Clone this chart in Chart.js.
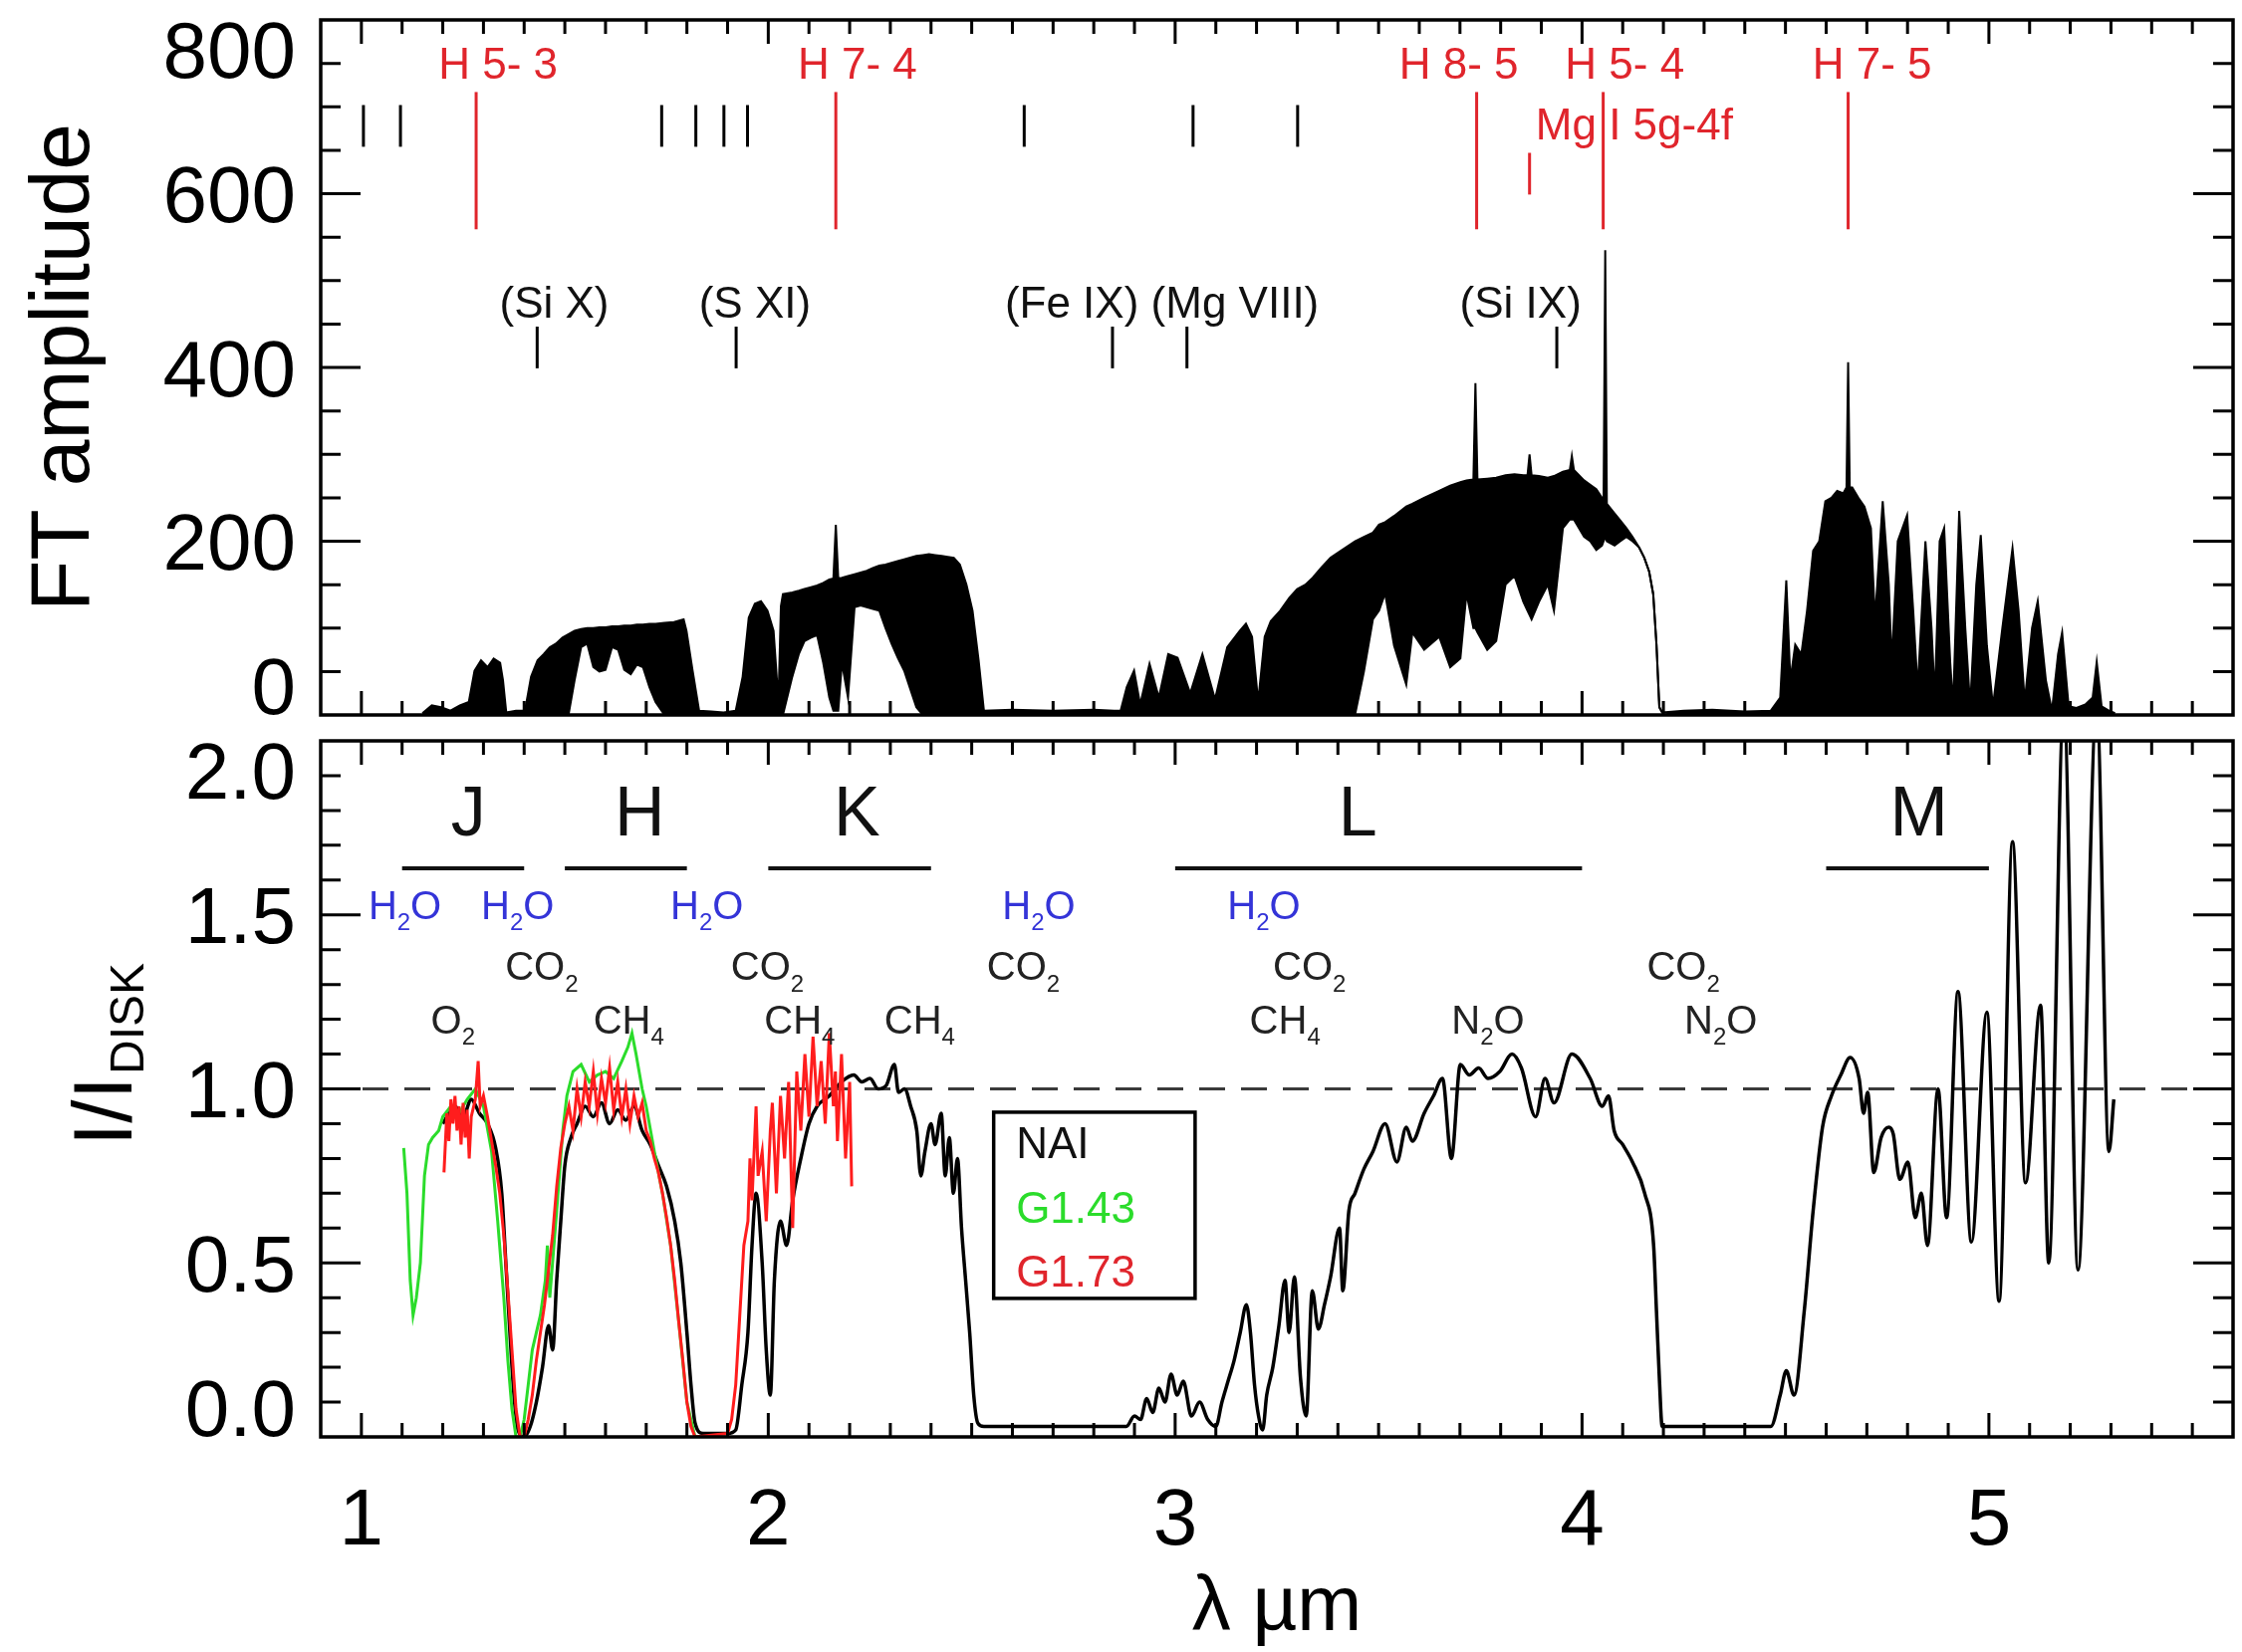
<!DOCTYPE html>
<html>
<head>
<meta charset="utf-8">
<script src="https://cdn.jsdelivr.net/npm/chart.js@4.4.1/dist/chart.umd.min.js"></script>
<style>
  html, body { margin: 0; padding: 0; background: #fff; }
  #wrap { position: relative; width: 2251px; height: 1659px; background: #fff; }
  canvas { position: absolute; left: 0; }
  #ftCanvas { top: 0; }
  #ratioCanvas { top: 731px; }
</style>
</head>
<body>
<div id="wrap">
  <canvas id="ftCanvas" width="2251" height="731"></canvas>
  <canvas id="ratioCanvas" width="2251" height="928"></canvas>
</div>
<script>
// ---------- upper panel: FT amplitude spectrum (upper / lower envelope of the line forest) ----------
const ftWave = [
  // J
  1.150, 1.173, 1.196, 1.219, 1.242, 1.264, 1.278, 1.294, 1.310, 1.325, 1.341, 1.348, 1.356, 1.380,
  // H
  1.402, 1.417, 1.433, 1.448, 1.463, 1.478, 1.494, 1.509, 1.524, 1.540, 1.555, 1.570, 1.585, 1.600,
  1.616, 1.631, 1.646, 1.662, 1.677, 1.692, 1.708, 1.723, 1.745, 1.768, 1.792, 1.799, 1.814, 1.830,
  // gap
  1.860, 1.890, 1.920,
  // K
  1.937, 1.952, 1.967, 1.982, 1.998, 2.013, 2.025, 2.031, 2.036, 2.059, 2.075, 2.089, 2.105, 2.120,
  2.135, 2.150, 2.160, 2.166, 2.172, 2.181, 2.196, 2.212, 2.227, 2.242, 2.257, 2.273, 2.288, 2.303,
  2.318, 2.334, 2.349, 2.364, 2.380, 2.395, 2.410, 2.426, 2.441, 2.456, 2.471, 2.487, 2.502, 2.517,
  2.530,
  // gap
  2.600, 2.700, 2.800, 2.850,
  // L
  2.866, 2.881, 2.899, 2.914, 2.937, 2.960, 2.983, 3.006, 3.037, 3.067,
  3.098, 3.128, 3.159, 3.174, 3.189, 3.204, 3.220, 3.235, 3.258, 3.281,
  3.300, 3.320, 3.338, 3.360, 3.382, 3.410, 3.442, 3.464, 3.486, 3.501,
  3.516, 3.538, 3.568, 3.583, 3.612, 3.649, 3.676, 3.701, 3.716, 3.733,
  3.738, 3.743, 3.767, 3.789, 3.812, 3.834, 3.856, 3.866, 3.871, 3.876,
  3.894, 3.916, 3.931, 3.953, 3.970, 3.975, 3.980, 4.005, 4.020, 4.035,
  4.049, 4.053, 4.057, 4.061, 4.080, 4.094, 4.109, 4.124, 4.140, 4.153,
  4.165, 4.175, 4.183, 4.190, 4.197,
  // gap
  4.250, 4.320, 4.400, 4.464,
  // M
  4.487, 4.502, 4.512, 4.524, 4.539, 4.553, 4.568, 4.583, 4.598, 4.613,
  4.627, 4.642, 4.650, 4.654, 4.658, 4.664, 4.679, 4.694, 4.710, 4.720,
  4.739, 4.754, 4.761, 4.776, 4.799, 4.814, 4.825, 4.844, 4.859, 4.867,
  4.879, 4.890, 4.905, 4.912, 4.927, 4.942, 4.954, 4.969, 4.980, 4.995,
  5.010, 5.033, 5.058, 5.073, 5.088, 5.106, 5.120, 5.140, 5.155, 5.170,
  5.180, 5.196, 5.215, 5.237, 5.255, 5.265, 5.277, 5.295, 5.310
];
const ftUpper = [
  // J
  2, 11, 9, 5, 11, 15, 51, 63, 55, 65, 60, 40, 3, 5,
  // H
  5, 44, 63, 70, 78, 82, 89, 93, 97, 99, 100, 100, 101, 101,
  102, 102, 103, 103, 104, 104, 105, 105, 106, 107, 110, 97, 51, 5,
  // gap
  4, 3, 5,
  // K
  44, 112, 128, 131, 120, 97, 15, 125, 139, 141, 143, 145, 147, 149,
  152, 156, 157, 219, 157, 158, 160, 162, 164, 166, 169, 172, 173, 175,
  177, 179, 181, 183, 184, 185, 184, 183, 182, 181, 173, 150, 120, 63,
  5,
  // gap
  6, 5, 6, 5,
  // L
  5, 32, 51, 12, 59, 20, 70, 66, 25, 70,
  18, 78, 97, 105, 90, 15, 90, 108, 120, 135,
  145, 150, 158, 170, 181, 190, 200, 205, 210, 219,
  222, 229, 240, 243, 250, 258, 264, 268, 270, 271,
  382, 271, 272, 273, 276, 277, 276, 276, 300, 276,
  275, 273, 275, 280, 282, 298, 282, 270, 265, 260,
  250, 248, 535, 243, 232, 224, 215, 205, 193, 181,
  165, 139, 81, 9, 3,
  // gap
  5, 6, 4, 5,
  // M
  20, 155, 40, 81, 70, 120, 189, 200, 246, 250,
  258, 255, 262, 406, 262, 262, 250, 240, 215, 110,
  246, 150, 60, 200, 230, 120, 30, 200, 100, 20,
  200, 215, 60, 10, 235, 100, 10, 150, 207, 80,
  10, 100, 192, 120, 15, 100, 131, 40, 5, 70,
  95, 10, 8, 12, 20, 61, 10, 5, 2
];
const ftLower = [
  // J
  0, 0, 0, 0, 0, 0, 0, 0, 0, 0, 0, 0, 0, 0,
  // H
  0, 0, 0, 0, 0, 0, 0, 0, 40, 78, 82, 55, 50, 52,
  78, 75, 52, 47, 58, 55, 32, 15, 0, 0, 0, 0, 0, 0,
  // gap
  0, 0, 0,
  // K
  0, 0, 0, 0, 0, 0, 0, 0, 0, 44, 70, 85, 89, 92,
  60, 20, 5, 5, 5, 60, 20, 124, 126, 124, 122, 120, 100, 82,
  66, 51, 30, 9, 0, 0, 0, 0, 0, 0, 0, 0, 0, 0,
  0,
  // gap
  0, 0, 0, 0,
  // L
  0, 0, 0, 0, 0, 0, 0, 0, 0, 0,
  0, 0, 0, 0, 0, 0, 0, 0, 0, 0,
  0, 0, 0, 0, 0, 0, 0, 50, 110, 120,
  140, 80, 35, 95, 75, 90, 55, 65, 140, 100,
  100, 95, 75, 85, 150, 160, 130, 120, 115, 110,
  130, 150, 120, 215, 225, 225, 225, 205, 200, 190,
  195, 200, 205, 200, 195, 200, 205, 200, 193, 181,
  165, 139, 81, 9, 3,
  // gap
  0, 0, 0, 0,
  // M
  0, 0, 0, 0, 0, 0, 0, 0, 0, 0,
  0, 0, 0, 0, 0, 0, 0, 0, 0, 0,
  0, 0, 0, 0, 0, 0, 0, 0, 0, 0,
  0, 0, 0, 0, 0, 0, 0, 0, 0, 0,
  0, 0, 0, 0, 0, 0, 0, 0, 0, 0,
  0, 0, 0, 0, 0, 0, 0, 0, 0
];
const ftTicks = [0, 200, 400, 600, 800];

// identified lines
const hLineWave = [1.282, 2.166, 3.741, 4.052, 4.654];
const hLabelWave = [1.336, 2.219, 3.697, 4.105, 4.713];
const hLabels = ['H 5- 3', 'H 7- 4', 'H 8- 5', 'H 5- 4', 'H 7- 5'];
const mgLineWave = 3.871;
const otherLineWave = [1.005, 1.096, 1.738, 1.822, 1.891, 1.949, 2.629, 3.044, 3.301];
const ionLineWave = [1.432, 1.921, 2.846, 3.029, 3.938];
const ionLabelWave = [1.474, 1.967, 2.746, 3.147, 3.849];
const ionLabels = ['(Si X)', '(S XI)', '(Fe IX)', '(Mg VIII)', '(Si IX)'];

// ---------- lower panel: I / I_DISK ----------
const naiWave = [
  1.200, 1.230, 1.250, 1.270, 1.290, 1.310, 1.330, 1.345, 1.355, 1.365,
  1.375, 1.385, 1.400, 1.415, 1.430, 1.445, 1.460, 1.470, 1.480, 1.490,
  1.500, 1.515, 1.530, 1.550, 1.570, 1.590, 1.610, 1.630, 1.650, 1.670,
  1.690, 1.710, 1.730, 1.750, 1.770, 1.785, 1.800, 1.810, 1.820, 1.840,
  1.900, 1.920, 1.935, 1.950, 1.960, 1.970, 1.985, 1.995, 2.005, 2.015,
  2.030, 2.045, 2.060, 2.080, 2.100, 2.120, 2.150, 2.180, 2.210, 2.230,
  2.250, 2.270, 2.290, 2.310, 2.320, 2.335, 2.350, 2.365, 2.375, 2.385,
  2.400, 2.410, 2.425, 2.435, 2.445, 2.455, 2.465, 2.475, 2.485, 2.495,
  2.505, 2.515, 2.530, 2.700, 2.880, 2.900, 2.915, 2.930, 2.945, 2.960,
  2.975, 2.990, 3.005, 3.020, 3.040, 3.060, 3.080, 3.100, 3.115, 3.130,
  3.145, 3.160, 3.175, 3.185, 3.195, 3.205, 3.215, 3.225, 3.240, 3.255,
  3.270, 3.280, 3.293, 3.308, 3.322, 3.337, 3.352, 3.367, 3.382, 3.404,
  3.412, 3.427, 3.442, 3.464, 3.486, 3.516, 3.545, 3.568, 3.583, 3.612,
  3.635, 3.657, 3.679, 3.701, 3.723, 3.746, 3.769, 3.798, 3.828, 3.851,
  3.886, 3.909, 3.931, 3.975, 4.020, 4.050, 4.065, 4.079, 4.100, 4.124,
  4.154, 4.176, 4.183, 4.190, 4.197, 4.300, 4.464, 4.487, 4.502, 4.521,
  4.546, 4.568, 4.591, 4.613, 4.636, 4.659, 4.681, 4.692, 4.702, 4.717,
  4.735, 4.754, 4.765, 4.781, 4.801, 4.819, 4.834, 4.849, 4.875, 4.896,
  4.924, 4.957, 4.995, 5.025, 5.058, 5.090, 5.127, 5.147, 5.184, 5.219,
  5.265, 5.295, 5.307
];
const naiRatio = [
  0.90, 0.95, 0.92, 0.97, 0.93, 0.90, 0.83, 0.70, 0.50, 0.30,
  0.12, 0.02, 0.00, 0.03, 0.10, 0.20, 0.32, 0.25, 0.45, 0.62,
  0.78, 0.86, 0.90, 0.95, 0.92, 0.96, 0.90, 0.94, 0.91, 0.95,
  0.88, 0.84, 0.78, 0.72, 0.62, 0.50, 0.30, 0.15, 0.04, 0.01,
  0.01, 0.02, 0.15, 0.30, 0.55, 0.70, 0.50, 0.25, 0.12, 0.45,
  0.62, 0.55, 0.68, 0.80, 0.90, 0.95, 0.98, 1.02, 1.04, 1.02,
  1.03, 1.00, 1.01, 1.07, 0.99, 1.00, 0.95, 0.88, 0.75, 0.82,
  0.90, 0.84, 0.93, 0.75, 0.86, 0.70, 0.80, 0.60, 0.45, 0.30,
  0.12, 0.04, 0.03, 0.03, 0.03, 0.06, 0.05, 0.11, 0.07, 0.14,
  0.10, 0.18, 0.12, 0.16, 0.06, 0.10, 0.05, 0.03, 0.10, 0.16,
  0.22, 0.30, 0.38, 0.30, 0.15, 0.06, 0.02, 0.12, 0.20, 0.32,
  0.45, 0.30, 0.46, 0.17, 0.06, 0.42, 0.31, 0.38, 0.46, 0.60,
  0.42, 0.65, 0.70, 0.77, 0.82, 0.90, 0.79, 0.89, 0.85, 0.93,
  0.98, 1.03, 0.80, 1.07, 1.04, 1.06, 1.03, 1.05, 1.10, 1.06,
  0.92, 1.03, 0.96, 1.10, 1.03, 0.95, 0.98, 0.88, 0.84, 0.79,
  0.70, 0.55, 0.36, 0.17, 0.03, 0.03, 0.03, 0.12, 0.19, 0.12,
  0.36, 0.65, 0.89, 0.98, 1.04, 1.09, 1.03, 0.93, 0.99, 0.76,
  0.86, 0.89, 0.87, 0.74, 0.79, 0.63, 0.70, 0.55, 1.00, 0.63,
  1.28, 0.56, 1.22, 0.39, 1.71, 0.73, 1.24, 0.50, 2.10, 0.48,
  2.10, 0.82, 0.97
];
const g143Wave = [
  1.104, 1.112, 1.120, 1.127, 1.135, 1.145, 1.155, 1.165, 1.175, 1.190,
  1.200, 1.220, 1.240, 1.260, 1.280, 1.300, 1.320, 1.335, 1.350, 1.360,
  1.370, 1.380, 1.390, 1.400, 1.410, 1.420, 1.440, 1.452, 1.457, 1.463,
  1.480, 1.495, 1.505, 1.520, 1.540, 1.560, 1.580, 1.600, 1.620, 1.640,
  1.655, 1.665, 1.675, 1.690, 1.700, 1.720, 1.740, 1.760, 1.780, 1.800,
  1.820, 1.850
];
const g143Ratio = [
  0.83, 0.70, 0.45, 0.35, 0.40, 0.50, 0.75, 0.84, 0.86, 0.88,
  0.92, 0.95, 0.93, 0.97, 1.00, 0.95, 0.82, 0.62, 0.40, 0.22,
  0.08, 0.00, 0.00, 0.05, 0.15, 0.25, 0.35, 0.45, 0.55, 0.40,
  0.65, 0.88, 0.98, 1.05, 1.07, 1.02, 1.04, 1.05, 1.03, 1.08,
  1.12, 1.16, 1.10, 1.00, 0.95, 0.82, 0.70, 0.55, 0.33, 0.10,
  0.00, 0.00
];
const g173Wave = [
  1.203, 1.210, 1.215, 1.220, 1.225, 1.230, 1.235, 1.240, 1.245, 1.250,
  1.255, 1.260, 1.265, 1.270, 1.280, 1.287, 1.292, 1.300, 1.310, 1.320,
  1.330, 1.340, 1.350, 1.360, 1.370, 1.380, 1.390, 1.400, 1.410, 1.420,
  1.430, 1.440, 1.450, 1.460, 1.470, 1.480, 1.490, 1.500, 1.510, 1.520,
  1.530, 1.540, 1.550, 1.560, 1.570, 1.580, 1.590, 1.600, 1.610, 1.620,
  1.630, 1.640, 1.650, 1.660, 1.670, 1.680, 1.690, 1.700, 1.710, 1.720,
  1.730, 1.740, 1.750, 1.760, 1.770, 1.780, 1.790, 1.800, 1.810, 1.820,
  1.900, 1.910, 1.920, 1.930, 1.940, 1.950, 1.955, 1.960, 1.970, 1.975,
  1.985, 1.995, 2.005, 2.010, 2.020, 2.030, 2.040, 2.050, 2.060, 2.070,
  2.080, 2.090, 2.100, 2.110, 2.120, 2.130, 2.140, 2.150, 2.160, 2.165,
  2.170, 2.180, 2.190, 2.200, 2.205
];
const g173Ratio = [
  0.76, 0.93, 0.85, 0.97, 0.90, 0.98, 0.88, 0.95, 0.84, 0.96,
  0.86, 0.94, 0.80, 0.92, 0.97, 1.08, 0.95, 0.98, 0.92, 0.85,
  0.78, 0.70, 0.58, 0.42, 0.25, 0.08, 0.00, 0.00, 0.05, 0.12,
  0.22, 0.30, 0.38, 0.48, 0.58, 0.72, 0.83, 0.90, 0.95, 0.88,
  1.00, 0.92, 1.02, 0.95, 1.05, 0.93, 1.03, 0.96, 1.06, 0.94,
  1.02, 0.92, 1.00, 0.90, 0.98, 0.92, 0.96, 0.88, 0.85, 0.80,
  0.76, 0.70, 0.63, 0.55, 0.45, 0.33, 0.22, 0.10, 0.03, 0.00,
  0.01, 0.05, 0.15, 0.35, 0.55, 0.62, 0.80, 0.68, 0.95, 0.75,
  0.82, 0.62, 0.88, 0.96, 0.70, 0.98, 0.80, 1.02, 0.60, 1.05,
  0.88, 1.10, 0.92, 1.15, 0.95, 1.08, 0.90, 1.16, 0.95, 1.05,
  0.85, 1.10, 0.80, 1.02, 0.72
];
const ratioTicks = [0, 0.5, 1.0, 1.5, 2.0];
const waveTicks = [1, 2, 3, 4, 5];

// photometric bands
const bandNames = ['J', 'H', 'K', 'L', 'M'];
const bandStart = [1.1, 1.5, 2.0, 3.0, 4.6];
const bandEnd = [1.4, 1.8, 2.4, 4.0, 5.0];
const bandLabelWave = [1.263, 1.684, 2.218, 3.449, 4.828];

// telluric absorbers
const h2oWave = [1.107, 1.384, 1.849, 2.665, 3.218];
const co2Wave = [1.443, 1.998, 2.627, 3.330, 4.249];
const minorGasWave = [1.225, 1.657, 2.077, 2.372, 3.270, 3.769, 4.341];
const minorGasNames = ['O_2', 'CH_4', 'CH_4', 'CH_4', 'CH_4', 'N_2O', 'N_2O'];

const legendNames = ['NAI', 'G1.43', 'G1.73'];

const FONT = '"Liberation Sans", Arial, Helvetica, sans-serif';
const RED = '#e0252c';
const RED_LINE = '#ff1d1d';
const GREEN = '#2bdc2b';
const BLUE = '#3434d8';

// text vertically centred on its cap height
function capText(ctx, s, x, y, size, color, align) {
  ctx.font = size + 'px ' + FONT;
  ctx.fillStyle = color;
  ctx.textAlign = align || 'center';
  ctx.textBaseline = 'alphabetic';
  ctx.fillText(s, x, y + size * 0.358);
}

// formula with one-character subscripts written as "_2"
function chemText(ctx, s, x, y, size, color) {
  const sub = Math.round(size * 0.6);
  const parts = [];
  for (let i = 0; i < s.length; i++) {
    if (s[i] === '_') { parts.push([s[i + 1], true]); i++; }
    else parts.push([s[i], false]);
  }
  let w = 0;
  parts.forEach(p => {
    ctx.font = (p[1] ? sub : size) + 'px ' + FONT;
    w += ctx.measureText(p[0]).width;
  });
  let cx = x - w / 2;
  const base = y + size * 0.358;
  ctx.fillStyle = color;
  ctx.textAlign = 'left';
  ctx.textBaseline = 'alphabetic';
  parts.forEach(p => {
    ctx.font = (p[1] ? sub : size) + 'px ' + FONT;
    ctx.fillText(p[0], cx, base + (p[1] ? size * 0.28 : 0));
    cx += ctx.measureText(p[0]).width;
  });
}

function vSeg(ctx, x, y, w, y0, y1) {
  const px = x.getPixelForValue(w);
  ctx.beginPath();
  ctx.moveTo(px, y.getPixelForValue(y0));
  ctx.lineTo(px, y.getPixelForValue(y1));
  ctx.stroke();
}

// box with inward ticks on all four sides
function drawFrame(chart, yMinor, yPerMajor) {
  const { ctx, chartArea: a, scales: { x, y } } = chart;
  ctx.save();
  ctx.strokeStyle = '#000';
  ctx.lineWidth = 3.5;
  ctx.strokeRect(a.left, a.top, a.right - a.left, a.bottom - a.top);
  ctx.lineWidth = 3;
  ctx.beginPath();
  for (let k = 10; k <= 55; k++) {
    const px = x.getPixelForValue(k / 10);
    const len = k % 10 === 0 ? 24 : 14;
    ctx.moveTo(px, a.bottom); ctx.lineTo(px, a.bottom - len);
    ctx.moveTo(px, a.top); ctx.lineTo(px, a.top + len);
  }
  const n = Math.round((y.max - y.min) / yMinor);
  for (let k = 1; k < n; k++) {
    const py = y.getPixelForValue(y.min + k * yMinor);
    const len = k % yPerMajor === 0 ? 40 : 20;
    ctx.moveTo(a.left, py); ctx.lineTo(a.left + len, py);
    ctx.moveTo(a.right, py); ctx.lineTo(a.right - len, py);
  }
  ctx.stroke();
  ctx.restore();
}

// tick labels kept inside the vertical extent of the box
function drawYLabels(chart, values, texts) {
  const { ctx, chartArea: a, scales: { y } } = chart;
  const size = 80, cap = size * 0.716;
  values.forEach((v, i) => {
    let py = y.getPixelForValue(v);
    py = Math.min(Math.max(py, a.top + cap / 2 + 1), a.bottom - cap / 2 - 1);
    capText(ctx, texts[i], a.left - 25, py, size, '#000', 'right');
  });
}

const ftDecor = {
  id: 'ftDecor',
  afterDraw(chart) {
    const { ctx, scales: { x, y } } = chart;
    drawFrame(chart, 50, 4);
    drawYLabels(chart, ftTicks, ftTicks.map(String));

    ctx.save();
    ctx.translate(89, 369);
    ctx.rotate(-Math.PI / 2);
    ctx.font = '84px ' + FONT;
    ctx.fillStyle = '#000';
    ctx.textAlign = 'center';
    ctx.textBaseline = 'alphabetic';
    ctx.fillText('FT amplitude', 0, 0);
    ctx.restore();

    ctx.save();
    ctx.lineWidth = 3;
    ctx.strokeStyle = RED;
    hLineWave.forEach(w => vSeg(ctx, x, y, w, 559, 717));
    vSeg(ctx, x, y, mgLineWave, 599, 647);
    ctx.strokeStyle = '#000';
    otherLineWave.forEach(w => vSeg(ctx, x, y, w, 654, 702));
    ionLineWave.forEach(w => vSeg(ctx, x, y, w, 399, 447));
    ctx.restore();

    hLabels.forEach((s, i) =>
      capText(ctx, s, x.getPixelForValue(hLabelWave[i]), y.getPixelForValue(751), 44, RED, 'center'));
    capText(ctx, 'Mg I 5g-4f', x.getPixelForValue(3.886), y.getPixelForValue(680), 44, RED, 'left');
    ionLabels.forEach((s, i) =>
      capText(ctx, s, x.getPixelForValue(ionLabelWave[i]), y.getPixelForValue(475), 44, '#111', 'center'));
  }
};

const ratioDecor = {
  id: 'ratioDecor',
  beforeDatasetsDraw(chart) {
    const { ctx, chartArea: a, scales: { y } } = chart;
    const py = y.getPixelForValue(1.0);
    ctx.save();
    ctx.strokeStyle = '#3a3a3a';
    ctx.lineWidth = 3;
    ctx.setLineDash([26, 16]);
    ctx.beginPath();
    ctx.moveTo(a.left, py);
    ctx.lineTo(a.right, py);
    ctx.stroke();
    ctx.restore();
  },
  afterDraw(chart) {
    const { ctx, chartArea: a, scales: { x, y } } = chart;
    drawFrame(chart, 0.1, 5);
    drawYLabels(chart, ratioTicks, ratioTicks.map(v => v.toFixed(1)));
    waveTicks.forEach(w => capText(ctx, String(w), x.getPixelForValue(w), 791, 80, '#000', 'center'));

    ctx.font = '78px ' + FONT;
    ctx.fillStyle = '#000';
    ctx.textAlign = 'center';
    ctx.textBaseline = 'alphabetic';
    ctx.fillText('\u03bb \u00b5m', (a.left + a.right) / 2, 906);

    // I/I_DISK
    ctx.save();
    ctx.translate(132, 329);
    ctx.rotate(-Math.PI / 2);
    ctx.fillStyle = '#000';
    ctx.textAlign = 'left';
    ctx.textBaseline = 'alphabetic';
    ctx.font = '84px ' + FONT;
    const w1 = ctx.measureText('I/I').width;
    ctx.font = '48px ' + FONT;
    const w2 = ctx.measureText('DISK').width;
    const sx = -(w1 + w2) / 2;
    ctx.font = '84px ' + FONT;
    ctx.fillText('I/I', sx, 0);
    ctx.font = '48px ' + FONT;
    ctx.fillText('DISK', sx + w1 + 2, 12);
    ctx.restore();

    // band names and extents
    ctx.save();
    ctx.strokeStyle = '#111';
    ctx.lineWidth = 4;
    bandNames.forEach((b, i) => {
      const py = y.getPixelForValue(1.634);
      ctx.beginPath();
      ctx.moveTo(x.getPixelForValue(bandStart[i]), py);
      ctx.lineTo(x.getPixelForValue(bandEnd[i]), py);
      ctx.stroke();
      capText(ctx, b, x.getPixelForValue(bandLabelWave[i]), y.getPixelForValue(1.80), 70, '#111', 'center');
    });
    ctx.restore();

    h2oWave.forEach(w => chemText(ctx, 'H_2O', x.getPixelForValue(w), y.getPixelForValue(1.53), 40, BLUE));
    co2Wave.forEach(w => chemText(ctx, 'CO_2', x.getPixelForValue(w), y.getPixelForValue(1.353), 40, '#222'));
    minorGasNames.forEach((s, i) =>
      chemText(ctx, s, x.getPixelForValue(minorGasWave[i]), y.getPixelForValue(1.20), 40, '#222'));

    // legend box
    const lx0 = x.getPixelForValue(2.554), lx1 = x.getPixelForValue(3.049);
    const ly0 = y.getPixelForValue(0.933), ly1 = y.getPixelForValue(0.398);
    ctx.save();
    ctx.fillStyle = '#fff';
    ctx.fillRect(lx0, ly0, lx1 - lx0, ly1 - ly0);
    ctx.strokeStyle = '#000';
    ctx.lineWidth = 3.5;
    ctx.strokeRect(lx0, ly0, lx1 - lx0, ly1 - ly0);
    ctx.restore();
    const legendColors = ['#111', GREEN, RED];
    const legendRows = [0.801, 0.615, 0.432];
    legendNames.forEach((s, i) => {
      ctx.font = '44px ' + FONT;
      ctx.fillStyle = legendColors[i];
      ctx.textAlign = 'left';
      ctx.textBaseline = 'alphabetic';
      ctx.fillText(s, x.getPixelForValue(2.609), y.getPixelForValue(legendRows[i]));
    });
  }
};

const common = {
  responsive: false,
  animation: false,
  devicePixelRatio: 1,
  plugins: { legend: { display: false }, tooltip: { enabled: false } }
};

new Chart(document.getElementById('ftCanvas'), {
  type: 'line',
  data: {
    datasets: [
      {
        data: ftWave.map((w, i) => ({ x: w, y: ftUpper[i] })),
        borderColor: '#000', backgroundColor: '#000', borderWidth: 2,
        pointRadius: 0, tension: 0, fill: '+1'
      },
      {
        data: ftWave.map((w, i) => ({ x: w, y: ftLower[i] })),
        borderColor: '#000', borderWidth: 2, pointRadius: 0, tension: 0, fill: false
      }
    ]
  },
  options: Object.assign({}, common, {
    layout: { padding: { left: 322, right: 9, top: 20, bottom: 13 } },
    scales: {
      x: { type: 'linear', min: 0.9, max: 5.6, display: false },
      y: { type: 'linear', min: 0, max: 800, display: false }
    }
  }),
  plugins: [ftDecor]
});

new Chart(document.getElementById('ratioCanvas'), {
  type: 'line',
  data: {
    datasets: [
      {
        label: 'G1.73', order: 0,
        data: g173Wave.map((w, i) => ({ x: w, y: g173Ratio[i] })),
        borderColor: RED_LINE, borderWidth: 3, pointRadius: 0, tension: 0, fill: false
      },
      {
        label: 'G1.43', order: 1,
        data: g143Wave.map((w, i) => ({ x: w, y: g143Ratio[i] })),
        borderColor: GREEN, borderWidth: 3, pointRadius: 0, tension: 0, fill: false
      },
      {
        label: 'NAI', order: 2,
        data: naiWave.map((w, i) => ({ x: w, y: naiRatio[i] })),
        borderColor: '#000', borderWidth: 3.5, pointRadius: 0,
        cubicInterpolationMode: 'monotone', fill: false
      }
    ]
  },
  options: Object.assign({}, common, {
    layout: { padding: { left: 322, right: 9, top: 13, bottom: 216 } },
    scales: {
      x: { type: 'linear', min: 0.9, max: 5.6, display: false },
      y: { type: 'linear', min: 0, max: 2.0, display: false }
    }
  }),
  plugins: [ratioDecor]
});
</script>
</body>
</html>
